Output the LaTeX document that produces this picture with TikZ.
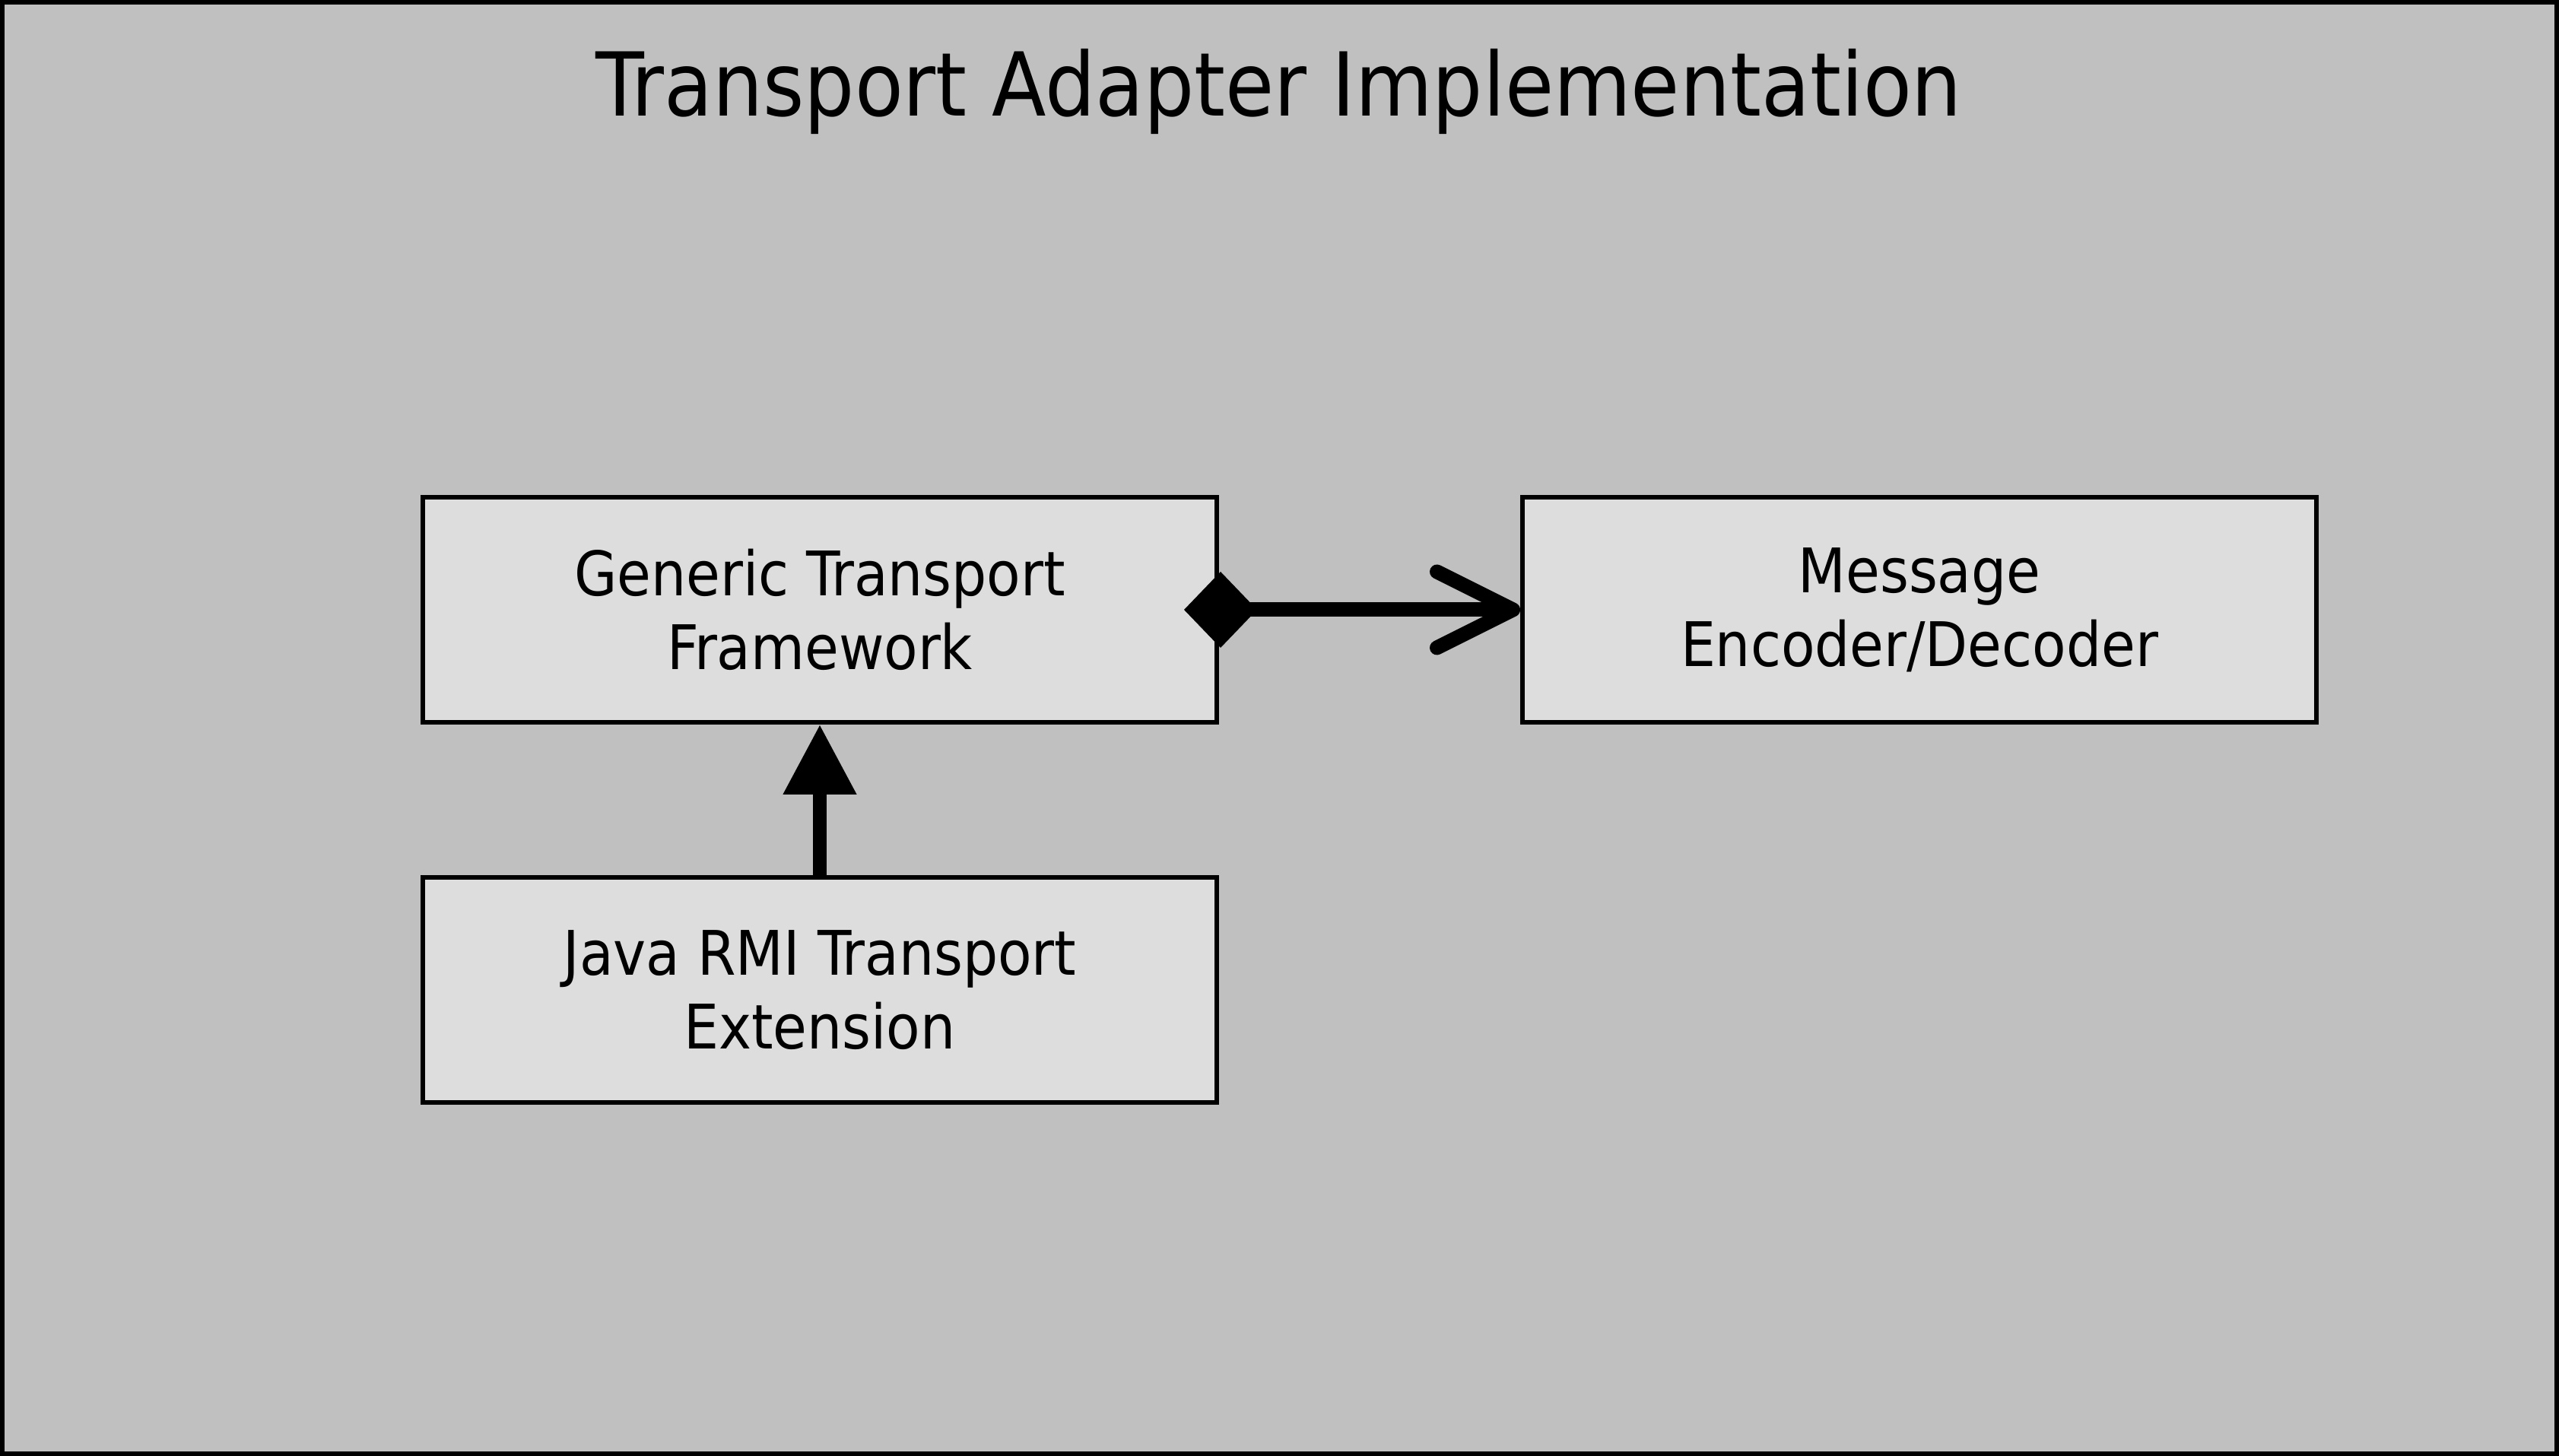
\documentclass[tikz,border=0pt]{standalone}
\usepackage{fontspec}
\setmainfont{DejaVu Sans Condensed}
\usepackage{xcolor}
\definecolor{frameGray}{HTML}{C0C0C0}
\definecolor{boxGray}{HTML}{DDDDDD}
\usepackage{tikz}
\usetikzlibrary{positioning,arrows.meta}
\tikzset{%
  compBox/.style={%
    rectangle,
    draw=black,
    line width=0.06cm,
    fill=boxGray,
    minimum width=10.44cm,
    minimum height=2.96cm,
    align=center,
    font=\fontsize{23}{27.6}\selectfont
  },
  assocLine/.style={%
    {Diamond[length=0.96cm,width=1.0cm]}-{Straight Barb[length=1.0cm,width=1.0cm,round]},
    line width=0.19cm
  },
  inheritLine/.style={%
    -{Triangle[length=0.92cm,width=0.92cm]},
    line width=0.18cm
  }
}

\begin{document}
\begin{tikzpicture}
  \useasboundingbox (0,0) rectangle (33.65,19.15);
  \draw[line width=0.06cm, fill=frameGray] (0.03,0.03) rectangle (33.62,19.12);
  \node[anchor=base, font=\fontsize{33}{40}\selectfont] (title) at (16.82,17.62) {Transport Adapter Implementation};

  \node[compBox] (generic) at (10.78,11.13) {Generic Transport\\Framework};
  \node[compBox, right=3.96cm of generic] (codec) {Message\\Encoder/Decoder};
  \node[compBox, below=1.98cm of generic] (javarmi) {Java RMI Transport\\Extension};

  \draw[assocLine] ([xshift=-0.46cm]generic.east) -- (codec.west);
  \draw[inheritLine] (javarmi.north) -- (generic.south);
\end{tikzpicture}
\end{document}
